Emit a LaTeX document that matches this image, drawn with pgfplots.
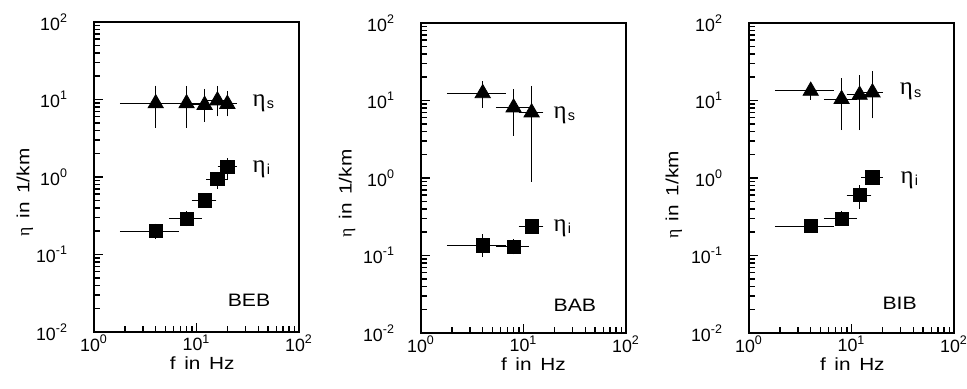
\documentclass[border=0pt]{standalone}
\usepackage{fontspec}
\setmainfont{Liberation Sans}
\newfontfamily\labfont{Liberation Sans}[FakeStretch=1.18, WordSpace=1.5]
\newfontfamily\grk{Liberation Serif}
\usepackage{pgfplots}
\pgfplotsset{compat=1.18}
\newcommand{\etas}{{\fontsize{12.5}{12}\selectfont\grk η}\hspace{0.6pt}\raisebox{-1.2pt}{\fontsize{7.2}{7}\selectfont s}}
\newcommand{\etai}{{\fontsize{12.5}{12}\selectfont\grk η}\hspace{0.6pt}\raisebox{-1.2pt}{\fontsize{7.2}{7}\selectfont i}}
\pgfplotsset{every axis/.append style={
    scale only axis, width=102.5pt, height=155pt,
    xmin=1, xmax=100, ymin=0.01, ymax=100,
    xtick={1,10,100}, ytick={0.01,0.1,1,10,100},
    xticklabels={10\textsuperscript{0},10\textsuperscript{1},10\textsuperscript{2}},
    yticklabels={10\textsuperscript{-2},10\textsuperscript{-1},10\textsuperscript{0},10\textsuperscript{1},10\textsuperscript{2}},
    tick align=inside, xtick pos=bottom, ytick pos=left,
    major tick length=4.5pt, minor tick length=2.8pt,
    axis line style={line width=1.1pt},
    yticklabel style={xshift=-9.5pt, font=\fontsize{8.9}{10}\selectfont},
    xticklabel style={yshift=2.2pt, font=\fontsize{8.9}{10}\selectfont},
    ylabel style={font=\fontsize{8.8}{10}\labfont},
    xlabel style={font=\fontsize{8.8}{10}\labfont},
    clip=false,
  }}
\pgfplotsset{every tick/.style={black, line width=0.9pt},
    every minor tick/.style={black, line width=0.7pt}}
\pgfplotsset{
  mytri/.style={black, only marks, mark=triangle*, mark size=4.4pt, mark options={fill=black}},
  mysq/.style={black, only marks, mark=square*, mark size=3.3pt, mark options={fill=black}},
  myerr/.style={error bars/.cd, x dir=both, x explicit, y dir=both, y explicit,
    error bar style={line width=0.5pt, black},
    error mark options={line width=0.5pt, mark size=2.5pt, black}},
}
\begin{document}
\begin{tikzpicture}
\useasboundingbox (0,0) rectangle (483.5pt,194.5pt);
% ---------- BEB ----------
\begin{loglogaxis}[at={(47pt,28.5pt)}, anchor=south west,
  ylabel={{\grk η} in 1/km}, xlabel={f in Hz},
  ylabel style={at={(axis description cs:-0.337,0.45)}, anchor=center},
  xlabel style={at={(axis description cs:0.528,-0.1)}, anchor=center}]
\addplot[mytri, myerr] coordinates {
  (4,8.9) += (2,4.1) -= (2,3.9)
  (8,8.9) += (2,4.0) -= (2,3.9)
  (12,8.5) += (2,3.3) -= (2,2.5)
  (16,9.7) += (2,3.2) -= (2,2.7)
  (20,8.75) += (2,2.35) -= (2,1.75)
};
\addplot[mysq, myerr] coordinates {
  (4,0.2) +- (2,0.015)
  (8,0.29) +- (2,0.02)
  (12,0.5) +- (2,0.03)
  (16,0.94) += (2,0.06) -= (2,0.12)
  (20,1.35) += (2,0.15) -= (2,0.29)
};
\node[anchor=base west, inner sep=0pt] at (axis cs:35,8.2) {\etas};
\node[anchor=base west, inner sep=0pt] at (axis cs:35,1.14) {\etai};
\node[anchor=base west, inner sep=0pt, font=\fontsize{9}{10}\labfont] at (axis cs:20,0.0216) {BEB};
\end{loglogaxis}
% ---------- BAB ----------
\begin{loglogaxis}[at={(210.5pt,28pt)}, anchor=south west,
  ylabel={{\grk η} in 1/km}, xlabel={f in Hz},
  ylabel style={at={(axis description cs:-0.36,0.45)}, anchor=center},
  xlabel style={at={(axis description cs:0.548,-0.1)}, anchor=center}]
\addplot[mytri, myerr] coordinates {
  (4,12.4) += (2,2.9) -= (2,3.0)
  (8,8.1) += (2,3.9) -= (2,4.0)
  (12,7.0) += (2,6.3) -= (2,5.96)
};
\addplot[mysq, myerr] coordinates {
  (4,0.135) += (2,0.028) -= (2,0.024)
  (8,0.13) +- (2,0.01)
  (12,0.238) +- (2,0.015)
};
\node[anchor=base west, inner sep=0pt] at (axis cs:19.5,5.84) {\etas};
\node[anchor=base west, inner sep=0pt] at (axis cs:19.5,0.205) {\etai};
\node[anchor=base west, inner sep=0pt, font=\fontsize{9}{10}\labfont] at (axis cs:19.5,0.0189) {BAB};
\end{loglogaxis}
% ---------- BIB ----------
\begin{loglogaxis}[at={(374.5pt,28pt)}, anchor=south west,
  ylabel={{\grk η} in 1/km}, xlabel={f in Hz},
  ylabel style={at={(axis description cs:-0.367,0.445)}, anchor=center},
  xlabel style={at={(axis description cs:0.504,-0.1)}, anchor=center}]
\addplot[mytri, myerr] coordinates {
  (4,13.3) +- (2,1.5)
  (8,10.4) += (2,6.2) -= (2,5.6)
  (12,11.8) += (2,6.5) -= (2,7.0)
  (16,12.7) += (2,7.7) -= (2,5.9)
};
\addplot[mysq, myerr] coordinates {
  (4,0.24) +- (2,0.01)
  (8,0.30) +- (2,0.02)
  (12,0.60) += (2,0.10) -= (2,0.14)
  (16,1.02) +- (2,0.03)
};
\node[anchor=base west, inner sep=0pt] at (axis cs:29.4,11.9) {\etas};
\node[anchor=base west, inner sep=0pt] at (axis cs:29.9,0.857) {\etai};
\node[anchor=base west, inner sep=0pt, font=\fontsize{9}{10}\labfont] at (axis cs:19.9,0.0202) {BIB};
\end{loglogaxis}
\end{tikzpicture}
\end{document}
